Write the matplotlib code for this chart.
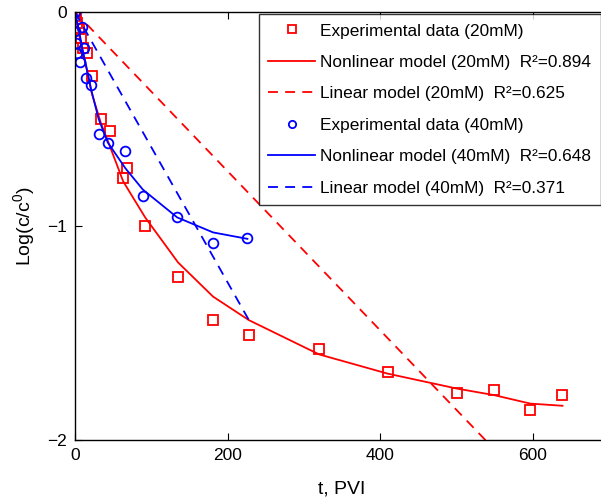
import matplotlib
matplotlib.use("Agg")
import matplotlib.pyplot as plt

plt.rcParams['font.family'] = ['Liberation Sans', 'DejaVu Sans']
plt.rcParams['mathtext.fontset'] = 'custom'
plt.rcParams['mathtext.rm'] = 'Liberation Sans'
plt.rcParams['mathtext.it'] = 'Liberation Sans:italic'

# 20 mM experimental data
x20 = [0, 1, 3, 5, 8, 11, 16, 22, 34, 46, 63, 68, 92, 135, 181, 228, 320, 410, 501, 549, 597, 639]
y20 = [0, -0.02, -0.05, -0.08, -0.12, -0.17, -0.19, -0.30, -0.50, -0.556, -0.776, -0.73, -1.0,
       -1.24, -1.44, -1.51, -1.575, -1.68, -1.78, -1.766, -1.86, -1.79]
# 20 mM nonlinear model
xn20 = [0, 1, 3, 5, 8, 11, 16, 22, 34, 46, 63, 68, 92, 135, 181, 228, 320, 410, 501, 549, 597, 639]
yn20 = [0, -0.02, -0.06, -0.10, -0.15, -0.20, -0.28, -0.38, -0.52, -0.63, -0.79, -0.82, -0.96,
        -1.17, -1.33, -1.44, -1.60, -1.69, -1.76, -1.79, -1.83, -1.84]
# 20 mM linear model
xl20 = [0, 639]
yl20 = [0, -2.376]

# 40 mM experimental data
x40 = [0, 0.5, 9, 1, 12, 3, 6.5, 14, 21, 31, 43, 66, 89, 134, 181, 226]
y40 = [0, -0.09, -0.07, -0.145, -0.17, -0.19, -0.235, -0.31, -0.34, -0.57, -0.61, -0.65,
       -0.86, -0.96, -1.08, -1.056]
# 40 mM nonlinear model
xn40 = [0, 3, 6.5, 9, 12, 14, 21, 31, 43, 66, 89, 134, 181, 226]
yn40 = [0, -0.05, -0.11, -0.16, -0.21, -0.24, -0.36, -0.50, -0.61, -0.73, -0.83, -0.96, -1.03, -1.06]
# 40 mM linear model
xl40 = [0, 228]
yl40 = [0, -1.44]

labels = ["Experimental data (20mM)",
          "Nonlinear model (20mM)  R²=0.894",
          "Linear model (20mM)  R²=0.625",
          "Experimental data (40mM)",
          "Nonlinear model (40mM)  R²=0.648",
          "Linear model (40mM)  R²=0.371"]

W, H = 601, 501
fig = plt.figure(figsize=(W / 100, H / 100), dpi=100)
left, right, top, bottom = 75, 609, 12, 440
ax = fig.add_axes([left / W, (H - bottom) / H, (right - left) / W, (bottom - top) / H])

ms = 7
lw = 1.3
dash = (5.5, 4)
h1, = ax.plot(x20, y20, 's', color='red', mfc='none', mec='red', ms=ms, mew=1.3, label=labels[0])
h2, = ax.plot(xn20, yn20, '-', color='red', lw=lw, label=labels[1])
h3, = ax.plot(xl20, yl20, '--', color='red', lw=lw, dashes=dash, label=labels[2])
h4, = ax.plot(x40, y40, 'o', color='blue', mfc='none', mec='blue', ms=ms, mew=1.3, label=labels[3])
h5, = ax.plot(xn40, yn40, '-', color='blue', lw=lw, label=labels[4])
h6, = ax.plot(xl40, yl40, '--', color='blue', lw=lw, dashes=dash, label=labels[5])

ax.set_xlim(0, 700)
ax.set_ylim(-2, 0)
ax.set_xticks([0, 200, 400, 600])
ax.set_yticks([-2, -1, 0])
ax.tick_params(direction='in', length=5, width=0.8, labelsize=12.5, top=True, right=True, pad=6)
for s in ax.spines.values():
    s.set_linewidth(1.0)

ax.set_xlabel("t, PVI", fontsize=14, labelpad=12)
ax.set_ylabel(r"Log(c/c$^{\mathrm{0}}$)", fontsize=14, labelpad=7)

leg = ax.legend(handles=[h1, h2, h3, h4, h5, h6], loc='upper left',
                bbox_to_anchor=(259 / W, 1 - 14 / H), bbox_transform=fig.transFigure,
                fontsize=12.4, frameon=True, fancybox=False, edgecolor='black',
                handlelength=2.7, handletextpad=0.3, labelspacing=0.95,
                borderpad=0.55, borderaxespad=0, markerscale=0.75)
leg.get_frame().set_linewidth(1.0)

fig.savefig("out.png", dpi=100)
